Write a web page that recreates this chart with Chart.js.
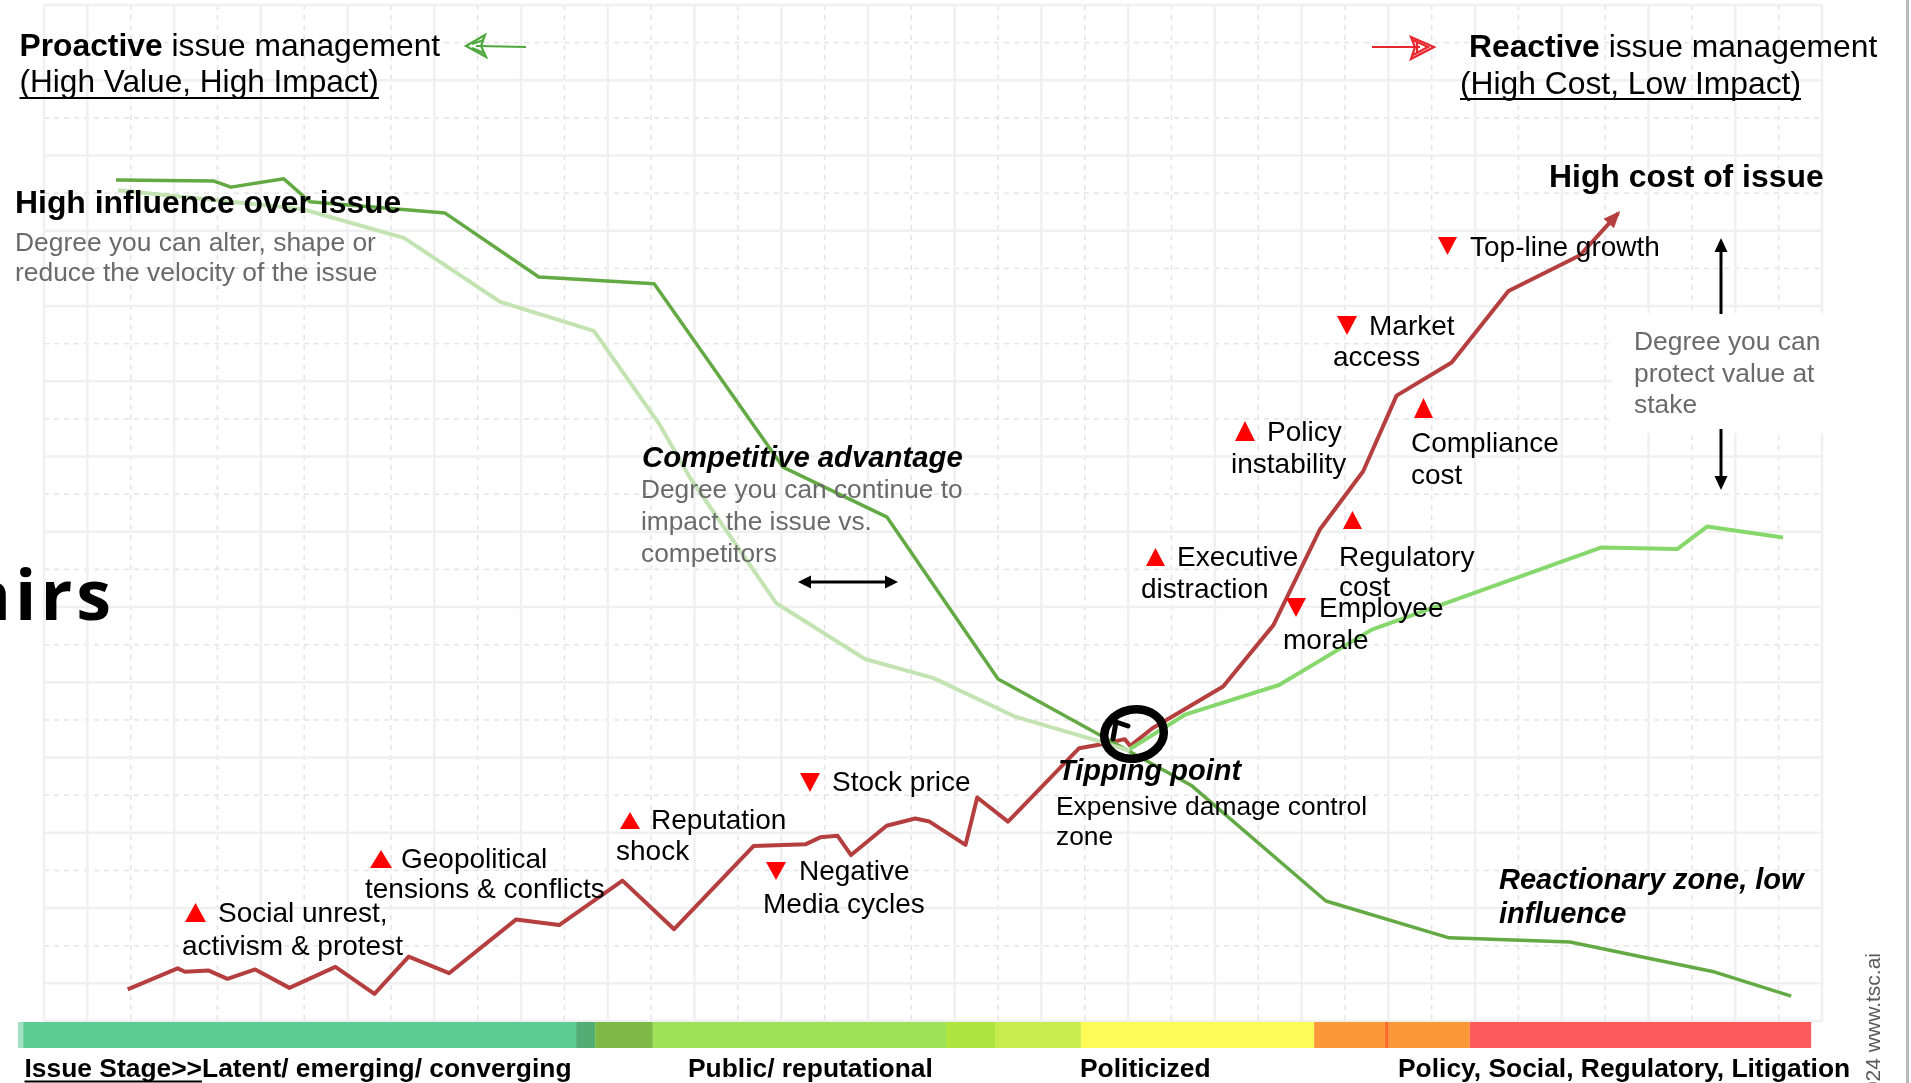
<!DOCTYPE html>
<html><head><meta charset="utf-8">
<script src="https://cdn.jsdelivr.net/npm/chart.js@4.4.1/dist/chart.umd.min.js"></script>
<style>html,body{margin:0;padding:0;background:#fff;overflow:hidden}canvas{display:block}</style>
</head><body>
<canvas id="c" width="1911" height="1083"></canvas>
<script>
// ---------- DATA (grid units: x = stage timeline 0..41, y = level 0..27) ----------
const influenceX = [1.66, 3.92, 4.31, 5.53, 6.13, 9.25, 11.41, 14.07, 17.04, 19.44, 22.00, 26.47, 29.56, 32.40, 35.19, 38.53, 40.29];
const influenceY = [22.35, 22.32, 22.16, 22.38, 21.77, 21.47, 19.77, 19.59, 14.72, 13.39, 9.09, 6.25, 3.19, 2.21, 2.10, 1.30, 0.66];

const competitorX = [1.71, 5.95, 8.30, 10.52, 12.68, 14.20, 14.90, 16.88, 18.93, 20.50, 22.41, 24.40, 25.04];
const competitorY = [22.08, 21.58, 20.81, 19.11, 18.34, 15.84, 14.43, 11.11, 9.62, 9.12, 8.08, 7.41, 7.18];

const protectX = [25.04, 26.33, 28.48, 30.62, 35.90, 37.66, 38.35, 40.10];
const protectY = [7.23, 8.15, 8.93, 10.40, 12.58, 12.54, 13.14, 12.85];

const costX = [1.93, 3.08, 3.25, 3.80, 4.23, 4.87, 5.66, 6.72, 7.62, 8.41, 9.34, 10.89, 11.88, 13.34, 14.53, 16.36, 17.57, 17.90, 18.30, 18.61, 19.43, 20.09, 20.42, 21.25, 21.52, 22.23, 23.87, 24.42, 24.92, 25.05, 25.56, 27.19, 28.35, 29.42, 30.42, 31.19, 32.46, 33.77, 35.42, 36.30];
const costY = [0.84, 1.40, 1.31, 1.34, 1.12, 1.37, 0.88, 1.44, 0.72, 1.71, 1.27, 2.70, 2.55, 3.73, 2.44, 4.65, 4.70, 4.88, 4.92, 4.41, 5.19, 5.38, 5.30, 4.68, 5.94, 5.30, 7.25, 7.36, 7.49, 7.31, 7.78, 8.89, 10.52, 13.06, 14.61, 16.62, 17.50, 19.40, 20.35, 21.46];

const stageStarts = [-0.60, -0.48, 12.27, 12.71, 14.04, 20.80, 21.93, 23.91, 29.29, 30.92, 31.01, 32.88];
const stageEnds   = [-0.48, 12.27, 12.71, 14.04, 20.80, 21.93, 23.91, 29.29, 30.92, 31.01, 32.88, 40.75];
const stageColors = ['#a3dfc3', '#5ccc93', '#53ae74', '#7eb946', '#9fe158', '#ade53e', '#c6ec4e', '#fdfc56', '#fd9838', '#fd6b2a', '#fd9838', '#fe5c5c'];
const stageLabels = ['Latent/ emerging/ converging', 'Public/ reputational', 'Politicized', 'Policy, Social, Regulatory, Litigation'];

const gridCols = 41;
const gridRows = 27;

// ---------- helpers ----------
const FONT = '"Liberation Sans", Arial, Helvetica, sans-serif';
const pts = (xs, ys) => xs.map((x, i) => ({x: x, y: ys[i]}));

function txt(ctx, s, x, y, style, size, color) {
  ctx.font = style + ' ' + size + 'px ' + FONT;
  ctx.fillStyle = color || '#000';
  ctx.textAlign = 'left';
  ctx.textBaseline = 'alphabetic';
  ctx.fillText(s, x, y);
  return ctx.measureText(s).width;
}
function tri(ctx, x0, x1, yTop, yBot, up) {
  ctx.fillStyle = '#ff0000';
  ctx.beginPath();
  if (up) { ctx.moveTo((x0 + x1) / 2, yTop); ctx.lineTo(x1, yBot); ctx.lineTo(x0, yBot); }
  else { ctx.moveTo(x0, yTop); ctx.lineTo(x1, yTop); ctx.lineTo((x0 + x1) / 2, yBot); }
  ctx.closePath(); ctx.fill();
}
function arrowHead(ctx, tx, ty, fx, fy, len, half, color) {
  const a = Math.atan2(ty - fy, tx - fx);
  ctx.fillStyle = color;
  ctx.beginPath();
  ctx.moveTo(tx, ty);
  ctx.lineTo(tx - len * Math.cos(a) + half * Math.sin(a), ty - len * Math.sin(a) - half * Math.cos(a));
  ctx.lineTo(tx - len * Math.cos(a) - half * Math.sin(a), ty - len * Math.sin(a) + half * Math.cos(a));
  ctx.closePath(); ctx.fill();
}
function seg(ctx, x0, y0, x1, y1, w, color) {
  ctx.strokeStyle = color; ctx.lineWidth = w; ctx.setLineDash([]);
  ctx.beginPath(); ctx.moveTo(x0, y0); ctx.lineTo(x1, y1); ctx.stroke();
}

// ---------- background: grid + stage bar ----------
const backgroundPlugin = {
  id: 'background',
  beforeDatasetsDraw(chart) {
    const {ctx, chartArea: a, scales: {x, y}} = chart;
    ctx.save();
    ctx.fillStyle = '#fff'; ctx.fillRect(0, 0, chart.width, chart.height);
    // dashed lines
    ctx.strokeStyle = '#e4e4e4'; ctx.lineWidth = 1.5; ctx.setLineDash([5, 5]);
    for (let i = 1; i < gridCols; i++) {
      if (i % 2 === 0) { const px = x.getPixelForValue(i); ctx.beginPath(); ctx.moveTo(px, a.top); ctx.lineTo(px, a.bottom); ctx.stroke(); }
    }
    for (let j = 1; j < gridRows; j++) {
      if (j % 2 === 0) { const py = y.getPixelForValue(j); ctx.beginPath(); ctx.moveTo(a.left, py); ctx.lineTo(a.right, py); ctx.stroke(); }
    }
    // solid lines
    ctx.setLineDash([]); ctx.strokeStyle = '#f0f0f0'; ctx.lineWidth = 2.5;
    for (let i = 0; i <= gridCols; i++) {
      if (i % 2 === 1 || i === 0 || i === gridCols) { const px = x.getPixelForValue(i); ctx.beginPath(); ctx.moveTo(px, a.top); ctx.lineTo(px, a.bottom); ctx.stroke(); }
    }
    for (let j = 0; j <= gridRows; j++) {
      if (j % 2 === 1 || j === 0 || j === gridRows) { const py = y.getPixelForValue(j); ctx.beginPath(); ctx.moveTo(a.left, py); ctx.lineTo(a.right, py); ctx.stroke(); }
    }
    // white box behind right note
    ctx.fillStyle = '#fff'; ctx.fillRect(1612, 313, 218, 120);
    // right gray rule
    ctx.fillStyle = '#b9b9b9'; ctx.fillRect(1906, 0, 3, chart.height);
    // stage bar
    for (let k = 0; k < stageStarts.length; k++) {
      const x0 = x.getPixelForValue(stageStarts[k]), x1 = x.getPixelForValue(stageEnds[k]);
      ctx.fillStyle = stageColors[k];
      ctx.fillRect(x0, a.bottom + 1, x1 - x0, 26);
    }
    ctx.restore();
  }
};

// ---------- annotations ----------
const annotationPlugin = {
  id: 'annotations',
  afterDatasetsDraw(chart) {
    const {ctx} = chart;
    ctx.save();
    // arrow head on cost line
    const m = chart.getDatasetMeta(3).data;
    const p1 = m[m.length - 1], p0 = m[m.length - 2];
    arrowHead(ctx, p1.x + 2, p1.y - 2.5, p0.x, p0.y, 17, 7, '#b53f3f');

    // tipping point loop
    ctx.strokeStyle = '#000'; ctx.lineWidth = 8.5; ctx.setLineDash([]);
    ctx.beginPath(); ctx.ellipse(1134, 734, 30, 24.5, -0.2, 0, Math.PI * 2); ctx.stroke();
    ctx.lineWidth = 5; ctx.lineCap = 'round';
    ctx.beginPath(); ctx.moveTo(1113, 739); ctx.lineTo(1116, 722); ctx.lineTo(1128, 726); ctx.stroke();
    ctx.lineCap = 'butt';

    const G = '#6a6a6a';
    // top-left heading
    let w = txt(ctx, 'Proactive', 19.5, 56, 'bold', 31.8);
    txt(ctx, ' issue management', 19.5 + w, 56, '', 31.8);
    w = txt(ctx, '(High Value, High Impact)', 19.5, 92, '', 31.6);
    seg(ctx, 19.5, 98, 19.5 + w, 98, 2, '#000');
    // green sketch arrow
    const GA = '#4ea83e';
    seg(ctx, 526, 47, 478, 46, 2, GA);
    ctx.strokeStyle = GA; ctx.lineWidth = 2.2;
    ctx.beginPath(); ctx.moveTo(485, 35); ctx.lineTo(466, 46); ctx.lineTo(486, 57); ctx.lineTo(481, 46); ctx.closePath(); ctx.stroke();
    ctx.beginPath(); ctx.moveTo(472, 44); ctx.lineTo(484, 40); ctx.moveTo(472, 48); ctx.lineTo(484, 53); ctx.moveTo(476, 46); ctx.lineTo(486, 46); ctx.stroke();

    // top-right heading
    w = txt(ctx, 'Reactive', 1469, 57, 'bold', 31.8);
    txt(ctx, ' issue management', 1469 + w, 57, '', 31.8);
    w = txt(ctx, '(High Cost, Low Impact)', 1460, 94, '', 31.8);
    seg(ctx, 1460, 99, 1460 + w, 99, 2, '#000');
    const RA = '#e8262b';
    seg(ctx, 1372, 47, 1420, 47, 2, RA);
    ctx.strokeStyle = RA; ctx.lineWidth = 2.2;
    ctx.beginPath(); ctx.moveTo(1411, 37); ctx.lineTo(1434, 47); ctx.lineTo(1411, 59); ctx.lineTo(1415, 47); ctx.closePath(); ctx.stroke();
    ctx.beginPath(); ctx.moveTo(1413, 40); ctx.lineTo(1428, 47); ctx.lineTo(1413, 55); ctx.moveTo(1417, 42); ctx.lineTo(1417, 53); ctx.stroke();

    // left block
    txt(ctx, 'High influence over issue', 15, 213, 'bold', 31.9);
    txt(ctx, 'Degree you can alter, shape or', 15, 251, '', 26.4, G);
    txt(ctx, 'reduce the velocity of the issue', 15, 281, '', 26.4, G);

    // right block
    txt(ctx, 'High cost of issue', 1549, 187, 'bold', 31.9);
    txt(ctx, 'Degree you can', 1634, 350, '', 26.4, G);
    txt(ctx, 'protect value at', 1634, 382, '', 26.4, G);
    txt(ctx, 'stake', 1634, 413, '', 26.4, G);
    // vertical arrows
    seg(ctx, 1721, 314, 1721, 250, 3, '#000');
    arrowHead(ctx, 1721, 238, 1721, 260, 14, 6.5, '#000');
    seg(ctx, 1721, 429, 1721, 478, 3, '#000');
    arrowHead(ctx, 1721, 490, 1721, 470, 14, 6.5, '#000');

    // impact labels (right)
    tri(ctx, 1438, 1457, 237, 255, false); txt(ctx, 'Top-line growth', 1470, 256, '', 28);
    tri(ctx, 1337, 1357, 316, 335, false); txt(ctx, 'Market', 1369, 335, '', 28); txt(ctx, 'access', 1333, 366, '', 28);
    tri(ctx, 1235, 1255, 421, 441, true); txt(ctx, 'Policy', 1267, 441, '', 28); txt(ctx, 'instability', 1231, 473, '', 28);
    tri(ctx, 1414, 1433, 398, 418, true); txt(ctx, 'Compliance', 1411, 452, '', 28); txt(ctx, 'cost', 1411, 484, '', 28);
    tri(ctx, 1343, 1362, 511, 529, true); txt(ctx, 'Regulatory', 1339, 566, '', 28); txt(ctx, 'cost', 1339, 596, '', 28);
    tri(ctx, 1146, 1165, 548, 566, true); txt(ctx, 'Executive', 1177, 566, '', 28); txt(ctx, 'distraction', 1141, 598, '', 28);
    tri(ctx, 1286, 1306, 598, 617, false); txt(ctx, 'Employee', 1319, 617, '', 28); txt(ctx, 'morale', 1283, 649, '', 28);

    // impact labels (left)
    tri(ctx, 185, 206, 903, 922, true); txt(ctx, 'Social unrest,', 218, 922, '', 28); txt(ctx, 'activism & protest', 182, 955, '', 28);
    tri(ctx, 370, 392, 850, 868, true); txt(ctx, 'Geopolitical', 401, 868, '', 28); txt(ctx, 'tensions & conflicts', 365, 898, '', 28);
    tri(ctx, 620, 640, 812, 829, true); txt(ctx, 'Reputation', 651, 829, '', 28); txt(ctx, 'shock', 616, 860, '', 28);
    tri(ctx, 800, 820, 773, 792, false); txt(ctx, 'Stock price', 832, 791, '', 28);
    tri(ctx, 766, 786, 862, 880, false); txt(ctx, 'Negative', 799, 880, '', 28); txt(ctx, 'Media cycles', 763, 913, '', 28);

    // competitive advantage
    txt(ctx, 'Competitive advantage', 642, 467, 'italic bold', 29.3);
    txt(ctx, 'Degree you can continue to', 641, 498, '', 26.3, G);
    txt(ctx, 'impact the issue vs.', 641, 530, '', 26.3, G);
    txt(ctx, 'competitors', 641, 562, '', 26.3, G);
    seg(ctx, 808, 582, 888, 582, 3, '#000');
    arrowHead(ctx, 798, 582, 815, 582, 13, 6.5, '#000');
    arrowHead(ctx, 898, 582, 880, 582, 13, 6.5, '#000');

    // tipping point
    txt(ctx, 'Tipping point', 1058, 780, 'italic bold', 29);
    txt(ctx, 'Expensive damage control', 1056, 815, '', 26.4);
    txt(ctx, 'zone', 1056, 845, '', 26.4);

    // reactionary zone
    txt(ctx, 'Reactionary zone, low', 1499, 889, 'italic bold', 29);
    txt(ctx, 'influence', 1499, 923, 'italic bold', 29);

    // cut-off title at left
    ctx.font = 'bold 70px "Open Sans", ' + FONT;
    ctx.fillStyle = '#000';
    ctx.letterSpacing = '4px';
    ctx.textAlign = 'right';
    ctx.fillText('Affairs', 115, 620);
    ctx.letterSpacing = '0px';

    // vertical credit
    ctx.save();
    ctx.translate(1880, 953); ctx.rotate(-Math.PI / 2);
    ctx.font = '21px ' + FONT; ctx.fillStyle = '#5a5a5a'; ctx.textAlign = 'right';
    ctx.fillText('\u00a9 2024 www.tsc.ai', 0, 0);
    ctx.restore();

    // stage labels
    const SB = 1076.5;
    w = txt(ctx, 'Issue Stage>>', 24.5, SB, 'bold', 26.4);
    seg(ctx, 24.5, SB + 5, 24.5 + w, SB + 5, 2, '#000');
    txt(ctx, stageLabels[0], 24.5 + w, SB, 'bold', 26.4);
    txt(ctx, stageLabels[1], 688, SB, 'bold', 26.4);
    txt(ctx, stageLabels[2], 1080, SB, 'bold', 26.4);
    txt(ctx, stageLabels[3], 1398, SB, 'bold', 26.4);
    ctx.restore();
  }
};

const ctx = document.getElementById('c').getContext('2d');
new Chart(ctx, {
  type: 'line',
  data: {
    datasets: [
      {label: 'Competitor influence', data: pts(competitorX, competitorY), borderColor: '#c3e3b2', borderWidth: 4},
      {label: 'Influence over issue', data: pts(influenceX, influenceY), borderColor: '#63a944', borderWidth: 3.5},
      {label: 'Value at stake protected', data: pts(protectX, protectY), borderColor: '#86d86c', borderWidth: 4},
      {label: 'Cost of issue', data: pts(costX, costY), borderColor: '#b53f3f', borderWidth: 4}
    ]
  },
  options: {
    responsive: false,
    animation: false,
    devicePixelRatio: 1,
    layout: {padding: {left: 44, right: 89, top: 5, bottom: 62}},
    scales: {
      x: {type: 'linear', min: 0, max: gridCols, display: false},
      y: {type: 'linear', min: 0, max: gridRows, display: false}
    },
    plugins: {legend: {display: false}, tooltip: {enabled: false}},
    elements: {
      point: {radius: 0, hoverRadius: 0},
      line: {tension: 0, borderJoinStyle: 'round', borderCapStyle: 'butt', fill: false}
    },
    datasets: {line: {clip: false}}
  },
  plugins: [backgroundPlugin, annotationPlugin]
});
</script>
</body></html>
